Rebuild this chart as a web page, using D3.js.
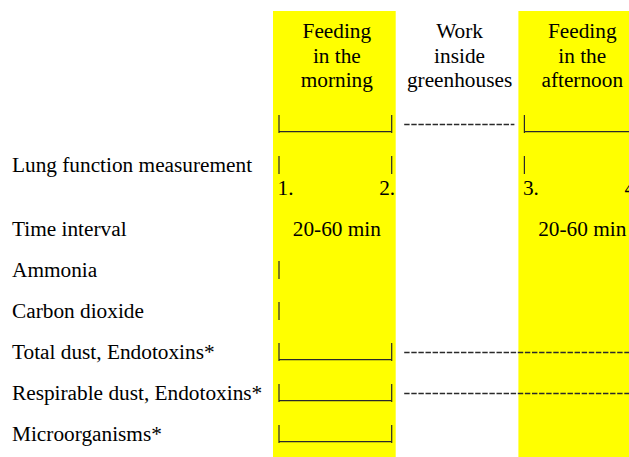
<!DOCTYPE html>
<html>
<head>
<meta charset="utf-8">
<script src="https://cdn.jsdelivr.net/npm/d3@7/dist/d3.min.js"></script>
<style>
  html, body { margin: 0; padding: 0; background: #fff; }
  svg { display: block; }
  text { font-family: "Liberation Serif", "Times New Roman", serif; font-size: 21.3px; fill: #000; }
</style>
</head>
<body>
<svg id="chart" width="629" height="457"></svg>
<script>
// ---- data ----
const phases = ["morning", "greenhouse", "afternoon"];
const phaseTitles = [["Feeding", "in the", "morning"], ["Work", "inside", "greenhouses"], ["Feeding", "in the", "afternoon"]];
const phaseHighlighted = [true, false, true];

const rowKeys = ["schedule", "lung", "time", "ammonia", "co2", "total", "respirable", "micro"];
const rowLabels = ["", "Lung function measurement", "Time interval", "Ammonia", "Carbon dioxide",
                   "Total dust, Endotoxins*", "Respirable dust, Endotoxins*", "Microorganisms*"];
const rowExtraLines = [0, 1, 0, 0, 0, 0, 0, 0];

// marks per row, one entry per phase: bracket | dash | ticks | tick | text:...
const marksSchedule   = ["bracket", "dash", "bracket"];
const marksLung       = ["ticks", "", "ticks"];
const marksTime       = ["text:20-60 min", "", "text:20-60 min"];
const marksAmmonia    = ["tick", "", ""];
const marksCO2        = ["tick", "", ""];
const marksTotal      = ["bracket", "dash", "dash"];
const marksRespirable = ["bracket", "dash", "dash"];
const marksMicro      = ["bracket", "", ""];
const rowMarks = [marksSchedule, marksLung, marksTime, marksAmmonia, marksCO2, marksTotal, marksRespirable, marksMicro];

// lung function measurement numbers (start, end) per phase
const lungNumbers = [["1.", "2."], ["", ""], ["3.", "4."]];

// ---- layout ----
const svg = d3.select("#chart");
const W = 629, H = 457;

const x = d3.scaleBand().domain(phases).range([273, 273 + 3 * 122.7]).padding(0);
const rowStep = 41, lineGap = 23, firstBaseline = 131;
let acc = 0;
const baselines = rowKeys.map((k, i) => {
  const b = firstBaseline + i * rowStep + acc;
  acc += rowExtraLines[i] * lineGap;
  return b;
});
const y = d3.scaleOrdinal().domain(rowKeys).range(baselines);

// highlighted columns
svg.append("g").selectAll("rect")
  .data(phases.filter((p, i) => phaseHighlighted[i]))
  .join("rect")
  .attr("x", d => x(d))
  .attr("y", 11)
  .attr("width", x.bandwidth())
  .attr("height", H - 11)
  .attr("fill", "#ffff00");

// column headers
const header = svg.append("g");
phases.forEach((p, i) => {
  const cx = x(p) + x.bandwidth() / 2 + 2.5;
  header.append("text")
    .attr("x", cx).attr("y", 38.3)
    .attr("text-anchor", "middle")
    .selectAll("tspan")
    .data(phaseTitles[i])
    .join("tspan")
    .attr("x", cx)
    .attr("dy", (d, j) => j === 0 ? 0 : 24.5)
    .text(d => d);
});

// row labels
svg.append("g").selectAll("text")
  .data(rowKeys.map((k, i) => ({ k, label: rowLabels[i] })).filter(d => d.label))
  .join("text")
  .attr("x", 12)
  .attr("y", d => y(d.k))
  .text(d => d.label);

// marks
const ink = "#2a2a2a";
const g = svg.append("g");

function bar(xp, yb) {
  g.append("line").attr("x1", xp).attr("x2", xp)
    .attr("y1", yb - 16).attr("y2", yb + 2)
    .attr("stroke", ink).attr("stroke-width", 1.2);
}

rowKeys.forEach((k, ri) => {
  const yb = y(k);
  const marks = rowMarks[ri];
  // dash runs (merge contiguous)
  let runStart = null;
  marks.forEach((m, pi) => {
    const p = phases[pi];
    const x0 = x(p), x1 = x0 + x.bandwidth();
    if (m === "dash") {
      if (runStart === null) runStart = x0 + 8.5;
      const next = marks[pi + 1];
      if (next !== "dash") {
        g.append("line")
          .attr("x1", runStart).attr("x2", next === undefined ? x1 : x1 - 4)
          .attr("y1", yb - 6.5).attr("y2", yb - 6.5)
          .attr("stroke", ink).attr("stroke-width", 1.5)
          .attr("stroke-dasharray", "5.4,1.7");
        runStart = null;
      }
    } else if (m === "bracket") {
      bar(x0 + 6, yb);
      bar(x1 - 4, yb);
      g.append("line").attr("x1", x0 + 6).attr("x2", x1 - 4)
        .attr("y1", yb + 0.6).attr("y2", yb + 0.6)
        .attr("stroke", ink).attr("stroke-width", 1.4);
    } else if (m === "ticks") {
      bar(x0 + 6, yb);
      bar(x1 - 4, yb);
      const nums = lungNumbers[pi];
      g.append("text").attr("x", x0 + 4.5).attr("y", yb + lineGap).text(nums[0]);
      g.append("text").attr("x", x1 - 0.5).attr("y", yb + lineGap)
        .attr("text-anchor", "end").text(nums[1]);
    } else if (m === "tick") {
      bar(x0 + 6, yb);
    } else if (m.startsWith("text:")) {
      g.append("text")
        .attr("x", x0 + x.bandwidth() / 2 + 2.5)
        .attr("y", yb)
        .attr("text-anchor", "middle")
        .text(m.slice(5));
    }
  });
});
</script>
</body>
</html>
